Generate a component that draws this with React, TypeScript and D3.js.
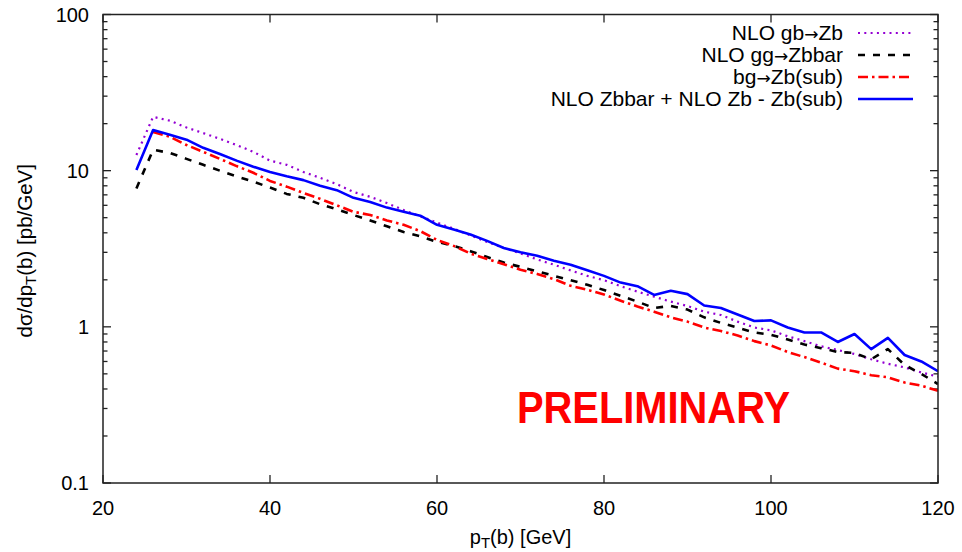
import React from 'react';
import * as d3 from 'd3';

// pT bins (GeV)
const ptBins = [24, 26, 28, 30, 32, 34, 36, 38, 40, 42, 44, 46, 48, 50, 52, 54, 56, 58, 60, 62, 64, 66, 68, 70, 72,
  74, 76, 78, 80, 82, 84, 86, 88, 90, 92, 94, 96, 98, 100, 102, 104, 106, 108, 110, 112, 114, 116, 118, 120];

// NLO gb -> Zb
const gbZb = [12.6, 22.1, 20.9, 18.9, 17.4, 16.0, 14.6, 13.2, 11.6, 10.9, 9.8, 9.0, 8.2, 7.3, 6.8, 6.2, 5.6, 5.1,
  4.65, 4.25, 3.85, 3.5, 3.2, 2.95, 2.7, 2.5, 2.3, 2.12, 1.99, 1.82, 1.68, 1.56, 1.45, 1.36, 1.25, 1.19, 1.08, 0.99,
  0.95, 0.87, 0.81, 0.75, 0.71, 0.67, 0.62, 0.58, 0.55, 0.51, 0.48];

// NLO gg -> Zbbar
const ggZbbar = [7.7, 13.6, 13.0, 11.9, 10.9, 10.0, 9.2, 8.5, 7.8, 7.1, 6.7, 6.1, 5.65, 5.2, 4.8, 4.4, 4.05, 3.8,
  3.5, 3.3, 3.05, 2.8, 2.58, 2.42, 2.27, 2.12, 1.99, 1.86, 1.72, 1.58, 1.45, 1.32, 1.36, 1.29, 1.15, 1.06, 0.99, 0.92,
  0.89, 0.83, 0.77, 0.73, 0.69, 0.68, 0.62, 0.72, 0.57, 0.5, 0.43];

// bg -> Zb(sub), starts at 26 GeV
const bgZbSub = [null, 17.7, 16.5, 14.6, 13.2, 11.9, 10.7, 9.7, 8.6, 7.9, 7.2, 6.6, 6.0, 5.45, 5.2, 4.8, 4.5, 4.1,
  3.6, 3.3, 2.95, 2.72, 2.52, 2.32, 2.18, 2.02, 1.83, 1.73, 1.61, 1.47, 1.35, 1.25, 1.15, 1.08, 0.99, 0.94, 0.88, 0.81,
  0.76, 0.69, 0.64, 0.59, 0.54, 0.52, 0.49, 0.475, 0.44, 0.42, 0.39];

// NLO Zbbar + NLO Zb - Zb(sub)
const combined = [10.1, 18.2, 17.0, 15.8, 14.0, 12.8, 11.6, 10.6, 9.8, 9.2, 8.7, 8.0, 7.5, 6.7, 6.3, 5.8, 5.45, 5.15,
  4.5, 4.2, 3.9, 3.55, 3.2, 3.0, 2.85, 2.65, 2.5, 2.3, 2.12, 1.92, 1.82, 1.6, 1.7, 1.62, 1.37, 1.32, 1.2, 1.09,
  1.1, 0.99, 0.92, 0.92, 0.8, 0.9, 0.72, 0.85, 0.66, 0.6, 0.52];

const xTicks = [20, 40, 60, 80, 100, 120];
const yTicks = [0.1, 1, 10, 100];
const yTickLabels = ['0.1', '1', '10', '100'];

const series = [
  { label: ['NLO gb', 'Zb'], values: gbZb, color: '#9400d3', dash: '2,4.3', width: 2.2 },
  { label: ['NLO gg', 'Zbbar'], values: ggZbbar, color: '#000000', dash: '7,8', width: 2.6 },
  { label: ['bg', 'Zb(sub)'], values: bgZbSub, color: '#ff0000', dash: '10,4,2.5,4', width: 2.6 },
  { label: ['NLO Zbbar + NLO Zb - Zb(sub)'], values: combined, color: '#0000ff', dash: null, width: 2.6 },
];

const W = 962;
const H = 552;
const margin = { top: 14.5, right: 24, bottom: 69, left: 103 };
const font = '"Liberation Sans", Arial, Helvetica, sans-serif';

export default function App() {
  const x = d3.scaleLinear().domain([20, 120]).range([margin.left, W - margin.right]);
  const y = d3.scaleLog().domain([0.1, 100]).range([H - margin.bottom, margin.top]);
  const [x0, x1] = x.range();
  const [y0, y1] = y.range();

  const line = d3.line<[number, number | null]>()
    .defined(d => d[1] != null)
    .x(d => x(d[0]))
    .y(d => y(d[1] as number));

  const minorY: number[] = [];
  [0.1, 1, 10].forEach(dec => {
    for (let k = 2; k <= 9; k++) minorY.push(dec * k);
  });

  return (
    <div style={{ position: 'absolute', left: 0, top: 0 }}>
      <svg width={W} height={H} style={{ display: 'block', background: '#fff' }} fontFamily={font}>
        <defs>
          <clipPath id="plot">
            <rect x={x0} y={y1} width={x1 - x0} height={y0 - y1} />
          </clipPath>
        </defs>

        {/* ticks */}
        <g stroke="#222" strokeWidth={1.3}>
          {xTicks.map(t => (
            <g key={'xt' + t}>
              <line x1={x(t)} x2={x(t)} y1={y0} y2={y0 - 8} />
              <line x1={x(t)} x2={x(t)} y1={y1} y2={y1 + 8} />
            </g>
          ))}
          {yTicks.map(t => (
            <g key={'yt' + t}>
              <line x1={x0} x2={x0 + 8} y1={y(t)} y2={y(t)} />
              <line x1={x1} x2={x1 - 8} y1={y(t)} y2={y(t)} />
            </g>
          ))}
          {minorY.map(t => (
            <g key={'ym' + t}>
              <line x1={x0} x2={x0 + 4.5} y1={y(t)} y2={y(t)} />
              <line x1={x1} x2={x1 - 4.5} y1={y(t)} y2={y(t)} />
            </g>
          ))}
        </g>

        {/* tick labels */}
        <g fontSize={20} fill="#000">
          {xTicks.map(t => (
            <text key={'xl' + t} x={x(t)} y={y0 + 32} textAnchor="middle">{t}</text>
          ))}
          {yTicks.map((t, i) => (
            <text key={'yl' + t} x={x0 - 14} y={y(t) + 7} textAnchor="end">{yTickLabels[i]}</text>
          ))}
        </g>

        {/* axis titles */}
        <text x={(x0 + x1) / 2} y={544} textAnchor="middle" fontSize={20}>
          p<tspan fontSize={15} dy={4}>T</tspan><tspan dy={-4}>(b) [GeV]</tspan>
        </text>
        <text transform={`translate(32,${(y0 + y1) / 2 + 2}) rotate(-90)`} textAnchor="middle" fontSize={20.5}>
          d{'\u03c3'}/dp<tspan fontSize={15} dy={4}>T</tspan><tspan dy={-4}>(b) [pb/GeV]</tspan>
        </text>

        {/* PRELIMINARY stamp */}
        <text x={517} y={423} fontSize={45} fontWeight="bold" fill="#ff0000"
          textLength={273} lengthAdjust="spacingAndGlyphs">PRELIMINARY</text>

        {/* curves */}
        <g clipPath="url(#plot)" fill="none">
          {series.map((s, k) => (
            <path key={'c' + k}
              d={line(ptBins.map((p, i) => [p, s.values[i]] as [number, number | null])) || ''}
              stroke={s.color} strokeWidth={s.width}
              strokeDasharray={s.dash || undefined}
              strokeLinejoin="round" />
          ))}
        </g>

        {/* legend */}
        <g fontSize={21}>
          {series.map((s, i) => {
            const ly = 33 + i * 22;
            return (
              <g key={'lg' + i}>
                <text x={843} y={ly + 7} textAnchor="end">
                  {s.label.length > 1 ? (
                    <>
                      {s.label[0]}
                      <tspan fontFamily="DejaVu Sans" fontSize={17}>{'\u2192'}</tspan>
                      {s.label[1]}
                    </>
                  ) : s.label[0]}
                </text>
                <line x1={858} x2={913} y1={ly} y2={ly} stroke={s.color} strokeWidth={s.width}
                  strokeDasharray={s.dash || undefined} />
              </g>
            );
          })}
        </g>

        {/* frame */}
        <rect x={x0} y={y1} width={x1 - x0} height={y0 - y1} fill="none" stroke="#222" strokeWidth={1.5} />
      </svg>
    </div>
  );
}
